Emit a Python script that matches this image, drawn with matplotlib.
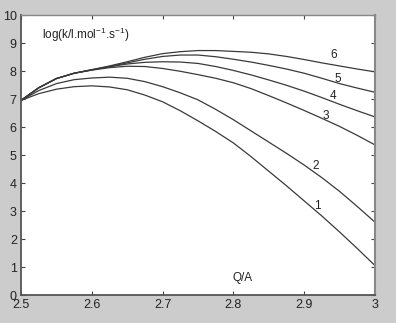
import numpy as np
import matplotlib
matplotlib.use("Agg")
import matplotlib.pyplot as plt

# Q/A values along the x axis (read every 0.025)
qa = [2.5, 2.525, 2.55, 2.575, 2.6, 2.625, 2.65, 2.675, 2.7, 2.725, 2.75,
      2.775, 2.8, 2.825, 2.85, 2.875, 2.9, 2.925, 2.95, 2.975, 3.0]

# log k for each curve
curve1 = [6.95, 7.19, 7.35, 7.44, 7.47, 7.43, 7.33, 7.14, 6.90, 6.58, 6.22,
          5.84, 5.43, 4.94, 4.42, 3.90, 3.36, 2.82, 2.25, 1.66, 1.05]
curve2 = [6.95, 7.30, 7.55, 7.69, 7.75, 7.78, 7.74, 7.62, 7.44, 7.22, 6.97,
          6.63, 6.26, 5.86, 5.46, 5.06, 4.64, 4.19, 3.70, 3.16, 2.60]
curve3 = [6.95, 7.40, 7.73, 7.92, 8.03, 8.12, 8.17, 8.16, 8.09, 7.99, 7.87,
          7.74, 7.58, 7.37, 7.12, 6.86, 6.59, 6.31, 6.02, 5.70, 5.36]
curve4 = [6.95, 7.40, 7.73, 7.92, 8.04, 8.15, 8.25, 8.31, 8.33, 8.32, 8.27,
          8.16, 8.02, 7.86, 7.68, 7.49, 7.28, 7.05, 6.81, 6.58, 6.36]
curve5 = [6.95, 7.40, 7.73, 7.92, 8.04, 8.16, 8.29, 8.42, 8.52, 8.57, 8.57,
          8.51, 8.42, 8.32, 8.20, 8.07, 7.92, 7.74, 7.55, 7.39, 7.24]
curve6 = [6.95, 7.40, 7.73, 7.92, 8.05, 8.18, 8.33, 8.49, 8.62, 8.69, 8.73,
          8.73, 8.70, 8.67, 8.61, 8.52, 8.41, 8.29, 8.18, 8.07, 7.97]

curve_labels = ["1", "2", "3", "4", "5", "6"]
label_x = [2.919, 2.916, 2.930, 2.940, 2.948, 2.941]
label_y = [3.18, 4.62, 6.40, 7.12, 7.71, 8.57]

x_ticks = [2.5, 2.6, 2.7, 2.8, 2.9, 3.0]
x_tick_labels = ["2.5", "2.6", "2.7", "2.8", "2.9", "3"]
y_ticks = list(range(0, 11))

plt.rcParams["font.family"] = ["Liberation Sans", "DejaVu Sans"]
plt.rcParams["mathtext.default"] = "regular"

fig = plt.figure(figsize=(3.96, 3.23), dpi=100)
fig.patch.set_facecolor("#cccccc")
ax = fig.add_axes([21 / 396, 28 / 323, 354 / 396, 280 / 323])
ax.set_facecolor("white")

for ys in [curve1, curve2, curve3, curve4, curve5, curve6]:
    ax.plot(qa, ys, color="#3a3a3a", lw=0.9)

for lab, lx, ly in zip(curve_labels, label_x, label_y):
    ax.text(lx, ly, lab, fontsize=8.5, color="#222222", ha="center", va="center")

ax.text(2.529, 9.29, r"log(k/l.mol$^{-1}$.s$^{-1}$)", fontsize=8.5,
        color="#222222", ha="left", va="center")
ax.text(2.813, 0.6, "Q/A", fontsize=8.5, color="#222222", ha="center", va="center")

ax.set_xlim(2.5, 3.0)
ax.set_ylim(0, 10)
ax.set_xticks(x_ticks)
ax.set_xticklabels(x_tick_labels)
ax.set_yticks(y_ticks)
ax.tick_params(direction="in", length=3, width=0.8, color="#444444",
               labelsize=9, labelcolor="#222222", top=True, right=True,
               labelright=False, labeltop=False)
ax.tick_params(axis="x", pad=3)
ax.tick_params(axis="y", pad=3)

for side in ["left", "bottom"]:
    ax.spines[side].set_color("#555555")
    ax.spines[side].set_linewidth(1.3)
for side in ["right", "top"]:
    ax.spines[side].set_color("#888888")
    ax.spines[side].set_linewidth(1.0)
ax.spines["right"].set_linewidth(1.5)

fig.savefig("out.png", dpi=100, facecolor=fig.get_facecolor())
